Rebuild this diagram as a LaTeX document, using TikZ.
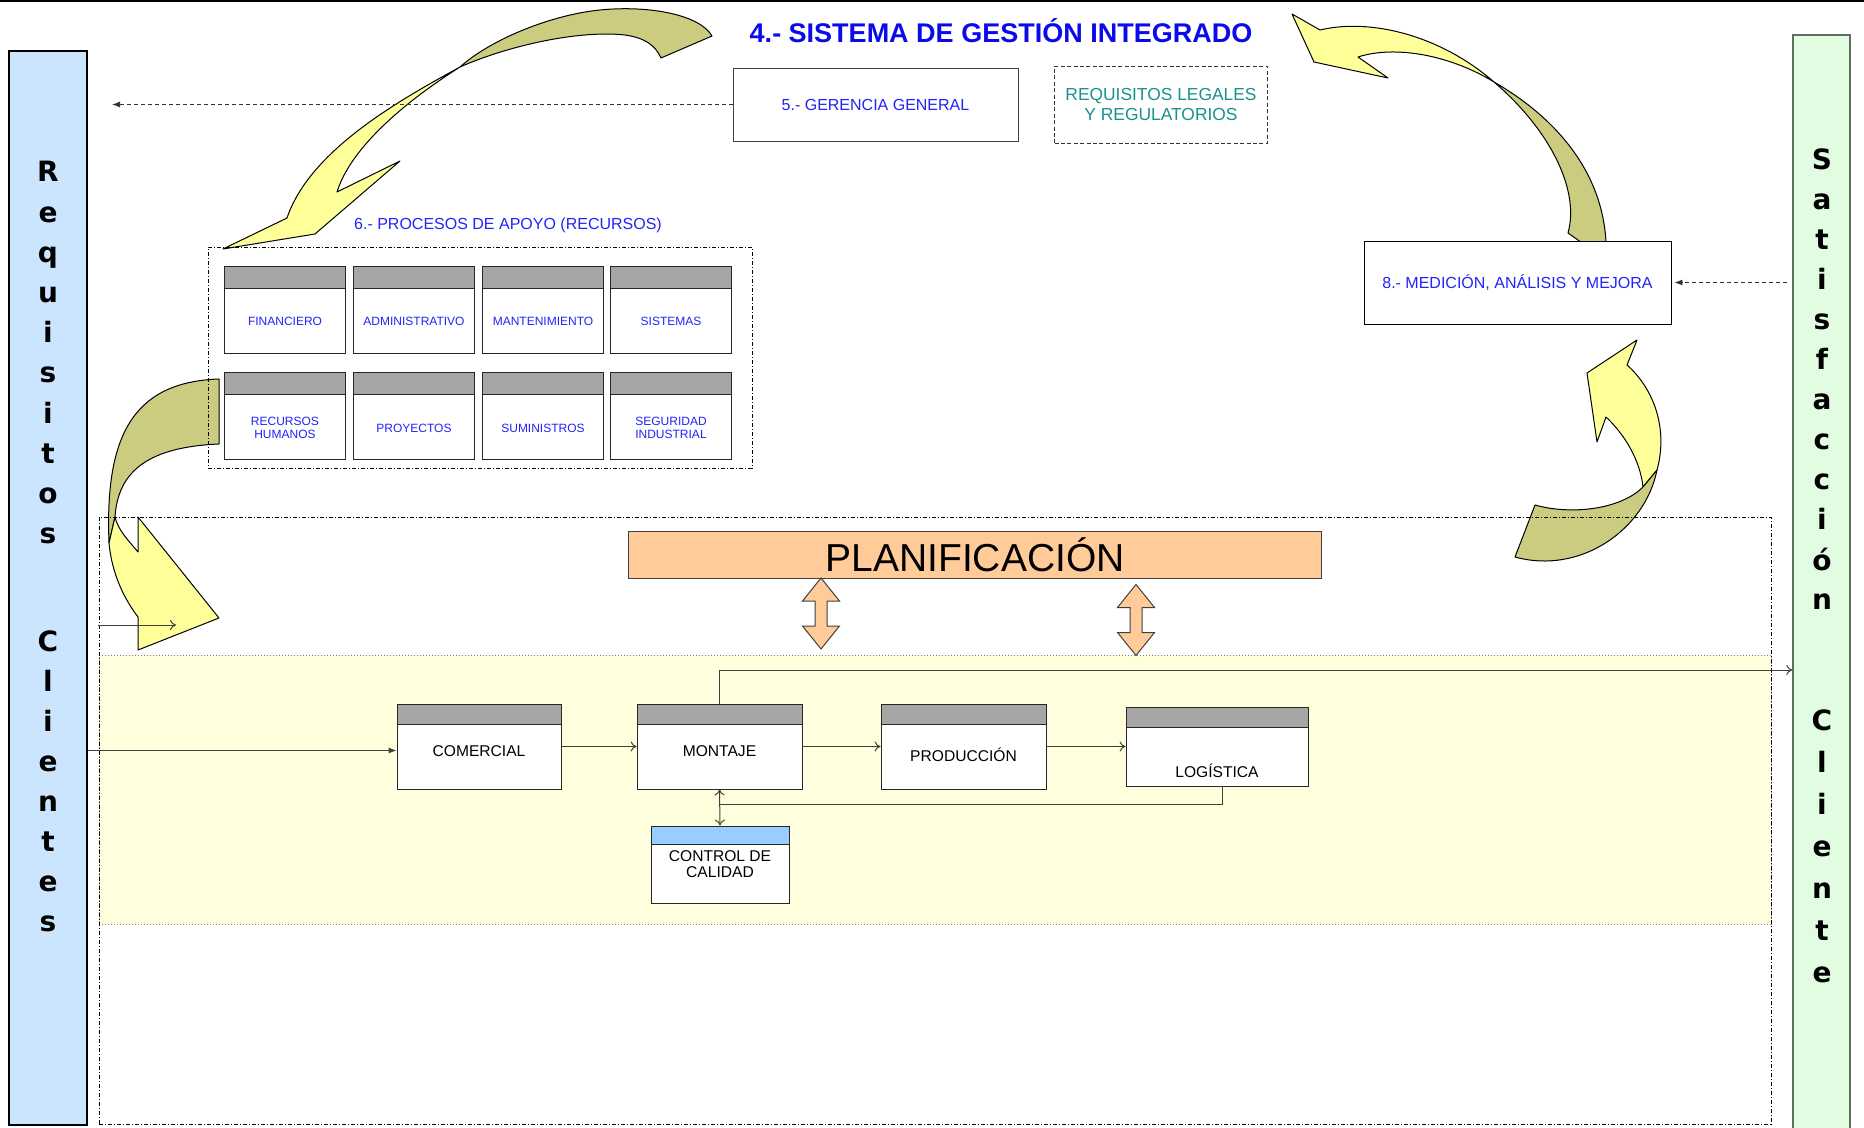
\documentclass[tikz,border=0pt]{standalone}
\usepackage{fontspec}
\setmainfont{Liberation Sans}
\newfontfamily\barfont{DejaVu Sans}
\usetikzlibrary{arrows.meta}

\definecolor{sgiblue}{RGB}{10,10,235}
\definecolor{txtblue}{RGB}{35,35,250}
\definecolor{legalteal}{RGB}{25,145,140}
\definecolor{barblue}{RGB}{204,229,255}
\definecolor{bargreen}{RGB}{225,252,225}
\definecolor{bargreenline}{RGB}{95,112,95}
\definecolor{hdrgray}{RGB}{166,166,166}
\definecolor{hdrblue}{RGB}{153,204,255}
\definecolor{peach}{RGB}{255,204,153}
\definecolor{cream}{RGB}{255,255,221}
\definecolor{ribbonyellow}{RGB}{255,255,153}
\definecolor{ribbonolive}{RGB}{204,204,128}

\begin{document}
\begin{tikzpicture}[x = 0.5pt, y = -0.5pt, > = {To[length = 3pt, width = 5pt]},
	bar/.style = {draw, inner sep = 0, line width = 0.6pt},
	barletter/.style = {anchor = base, inner sep = 0, font = \barfont\bfseries\fontsize{14}{14}\selectfont},
	textbox/.style = {draw = black!75, fill = white, inner sep = 0, font = \fontsize{8}{9}\selectfont, text = txtblue},
	hdrbox/.style 2 args = {draw = black!85, fill = white, inner sep = 0,
		path picture = {
			\fill[#1] (path picture bounding box.north west) rectangle ([yshift = -#2]path picture bounding box.north east);
			\draw[black!85] ([yshift = -#2]path picture bounding box.north west) -- ([yshift = -#2]path picture bounding box.north east);
		}},
	subbox/.style = {minimum width = 60.5pt, minimum height = 43.5pt},
	subtxt/.style = {align = center, inner sep = 0, text = txtblue, font = \fontsize{6}{6.7}\selectfont},
	proctxt/.style = {align = center, inner sep = 0, font = \fontsize{7.8}{8}\selectfont},
	dashdot/.style = {dash pattern = on 2pt off 1pt on 0.5pt off 1pt, line width = 0.4pt},
	dasharrow/.style = {dash pattern = on 2pt off 1.5pt, black!80, line width = 0.5pt, -{Latex[length = 4pt, width = 3pt]}},
	flow/.style = {black!75, line width = 0.5pt},
	ribbonfront/.style = {draw, line width = 0.5pt, line join = round, fill = ribbonyellow},
	ribbonback/.style = {draw, line width = 0.5pt, line join = round, fill = ribbonolive},
	pics/updown/.style = {code = {
		\draw[black!75, fill = peach, line width = 0.5pt]
			(-6, -12.5) -- (-18.5, -12.5) -- (0, -35.5) -- (18.5, -12.5) -- (6, -12.5)
			-- (6, 12.5) -- (18.5, 12.5) -- (0, 35.5) -- (-18.5, 12.5) -- (-6, 12.5) -- cycle;
	}}
]

	\useasboundingbox (0, 0) rectangle (1864, 1128);

	% Rule along the top
	
	\draw [line width = 1pt] (0, 1) -- (1864, 1);
	
	% Side bars
	
	\node [bar, fill = barblue, minimum width = 39pt, minimum height = 537pt] (reqcli) at (48, 588) {};
	\node [bar, fill = bargreen, draw = bargreenline, line width = 0.75pt, minimum width = 28.5pt, minimum height = 550pt] (satcli) at (1821.5, 585) {};
	
	\foreach \l [count = \i from 0] in {R,e,q,u,i,s,i,t,o,s}
		\node [barletter] (req\i) at (48, {182 + 40.2*\i}) {\l};
	\foreach \l [count = \i from 0] in {C,l,i,e,n,t,e,s}
		\node [barletter] (cli\i) at (48, {651 + 40*\i}) {\l};
	\foreach \l [count = \i from 0] in {S,a,t,i,s,f,a,c,c,i,ó,n}
		\node [barletter] (sat\i) at (1822, {170 + 40*\i}) {\l};
	\foreach \l [count = \i from 0] in {C,l,i,e,n,t,e}
		\node [barletter] (cte\i) at (1822, {730 + 42*\i}) {\l};
	
	% Operations band
	
	\node [fill = cream, draw = gray, densely dotted, line width = 0.5pt, minimum width = 836pt, minimum height = 134.5pt, inner sep = 0] (opera) at (935, 789.5) {};
	
	% Ribbon arrows
	
	\draw [ribbonback] (712, 36) .. controls (700, 15) and (650, 5) .. (600, 10)
		.. controls (550, 15) and (490, 40) .. (460, 67)
		.. controls (510, 45) and (580, 30) .. (625, 35)
		.. controls (645, 38) and (655, 45) .. (661, 58) -- cycle;
	\draw [ribbonfront] (460, 67) .. controls (400, 100) and (310, 150) .. (287, 218)
		-- (223, 249) -- (315, 234) -- (400, 161) -- (337, 192)
		.. controls (350, 150) and (400, 105) .. (460, 67) -- cycle;
	
	\draw [ribbonfront] (1494, 82) .. controls (1440, 35) and (1370, 18) .. (1320, 30)
		-- (1292, 14) -- (1314, 62) -- (1388, 78) -- (1358, 57)
		.. controls (1395, 45) and (1450, 55) .. (1494, 82) -- cycle;
	\draw [ribbonback] (1494, 82) .. controls (1560, 120) and (1610, 180) .. (1606, 260)
		-- (1568, 233) .. controls (1580, 190) and (1550, 130) .. (1494, 82) -- cycle;
	
	\draw [ribbonback] (219, 379) .. controls (130, 382) and (105, 440) .. (109, 543)
		-- (115, 517) .. controls (118, 470) and (150, 447) .. (219, 444) -- cycle;
	\draw [ribbonfront] (109, 543) .. controls (112, 575) and (125, 600) .. (138, 617)
		-- (138, 650) -- (219, 618) -- (138, 517) -- (138, 552)
		.. controls (128, 540) and (118, 530) .. (115, 517) -- cycle;
	
	\draw [ribbonfront] (1627, 365) -- (1637, 340) -- (1587, 373) -- (1597, 442) -- (1606, 417)
		.. controls (1625, 435) and (1640, 460) .. (1643, 487)
		-- (1657, 470) .. controls (1668, 430) and (1655, 390) .. (1627, 365) -- cycle;
	\draw [ribbonback] (1535, 505) .. controls (1570, 515) and (1620, 510) .. (1643, 487)
		-- (1657, 470) .. controls (1645, 530) and (1580, 575) .. (1515, 557) -- cycle;
	
	% Frames
	
	\node [draw, dashdot, minimum width = 836pt, minimum height = 303.5pt, inner sep = 0] (sgi) at (935, 820.5) {};
	\node [draw, dashdot, minimum width = 272pt, minimum height = 110.5pt, inner sep = 0] (apoyo) at (480, 357.5) {};
	
	% Top boxes
	
	\node [anchor = base, text = sgiblue, font = \bfseries\fontsize{13.5}{15}\selectfont] (sgititle) at (1001, 43) {4.- SISTEMA DE GESTIÓN INTEGRADO};
	
	\node [textbox, minimum width = 142.5pt, minimum height = 36.5pt] (gerencia) at (875.5, 104.5) {5.- GERENCIA GENERAL};
	\node [draw = black!80, dash pattern = on 2pt off 1.2pt, line width = 0.4pt, align = center, inner sep = 0,
		minimum width = 106.5pt, minimum height = 38.5pt, text = legalteal, font = \fontsize{8.7}{10}\selectfont] (legales) at (1161, 105) {REQUISITOS LEGALES\\Y REGULATORIOS};
	\node [textbox, draw = black, minimum width = 153.5pt, minimum height = 41.5pt] (medicion) at (1517.5, 282.5) {8.- MEDICIÓN, ANÁLISIS Y MEJORA};
	
	\coordinate (gerencia-out) at (112, 104.5);
	\draw [dasharrow] (gerencia.west) -- (gerencia-out);
	\draw [dasharrow] ([xshift = -2.5pt]satcli.west |- medicion.east) -- ([xshift = 1.5pt]medicion.east);
	
	% Support processes
	
	\node [anchor = base, text = txtblue, font = \fontsize{8}{9}\selectfont] (apoyotitle) at (508, 230) {6.- PROCESOS DE APOYO (RECURSOS)};
	
	\foreach \nm/\cx/\cy/\txt in {fin/285/309.5/FINANCIERO, adm/414/309.5/ADMINISTRATIVO, man/543/309.5/MANTENIMIENTO, sis/671/309.5/SISTEMAS,
		rh/285/416/{RECURSOS\\HUMANOS}, pro/414/416/PROYECTOS, sum/543/416/SUMINISTROS, seg/671/416/{SEGURIDAD\\INDUSTRIAL}}
	{
		\node [hdrbox = {hdrgray}{11pt}, subbox] (\nm) at (\cx, \cy) {};
		\node [subtxt] (\nm-t) at ([yshift = -6pt]\nm.center) {\txt};
	}
	
	% Planning
	
	\node [draw = black!75, fill = peach, line width = 0.5pt, minimum width = 346.5pt, minimum height = 23pt, inner sep = 0,
		font = \fontsize{19.5}{20}\selectfont] (planif) at (975, 555) {PLANIFICACIÓN};
	\pic (updown1) at (821, 613.5) {updown};
	\pic (updown2) at (1136, 620) {updown};
	
	% Main process
	
	\node [hdrbox = {hdrgray}{10pt}, minimum width = 82pt, minimum height = 42.5pt] (comercial) at (479, 746.5) {};
	\node [hdrbox = {hdrgray}{10pt}, minimum width = 82.5pt, minimum height = 42.5pt] (montaje) at (719.5, 746.5) {};
	\node [hdrbox = {hdrgray}{10pt}, minimum width = 82.5pt, minimum height = 42.5pt] (produccion) at (963.5, 746.5) {};
	\node [hdrbox = {hdrgray}{10pt}, minimum width = 91pt, minimum height = 39.5pt] (logistica) at (1217, 746.5) {};
	\node [hdrbox = {hdrblue}{9pt}, minimum width = 69pt, minimum height = 38.5pt] (control) at (720, 864.5) {};
	
	\node [proctxt] (comercial-t) at ([yshift = -2.25pt]comercial.center) {COMERCIAL};
	\node [proctxt] (montaje-t) at ([yshift = -2.25pt]montaje.center) {MONTAJE};
	\node [proctxt] (produccion-t) at ([yshift = -4.25pt]produccion.center) {PRODUCCIÓN};
	\node [proctxt] (logistica-t) at ([yshift = -12.25pt]logistica.center) {LOGÍSTICA};
	\node [proctxt] (control-t) at (control.center) {CONTROL DE\\CALIDAD};
	
	% Connectors
	
	\draw [flow, -{Latex[length = 4pt, width = 3pt]}] ([yshift = -2pt]comercial.west -| reqcli.east) -- ([yshift = -2pt]comercial.west);
	\draw [flow, ->] (comercial) -- (montaje);
	\draw [flow, ->] (montaje) -- (produccion);
	\draw [flow, ->] (produccion) -- (logistica);
	\draw [flow, ->] (montaje.north) |- (satcli.west |- 0, 670);
	\draw [flow] ([xshift = 2.5pt]logistica.south) |- (montaje.south |- 0, 804);
	\draw [flow, <->] (montaje.south) -- (control.north);
	
	\coordinate (plan-in) at (98, 625);
	\coordinate (plan-out) at (176, 625);
	\draw [flow, ->] (plan-in) -- (plan-out);

\end{tikzpicture}
\end{document}
